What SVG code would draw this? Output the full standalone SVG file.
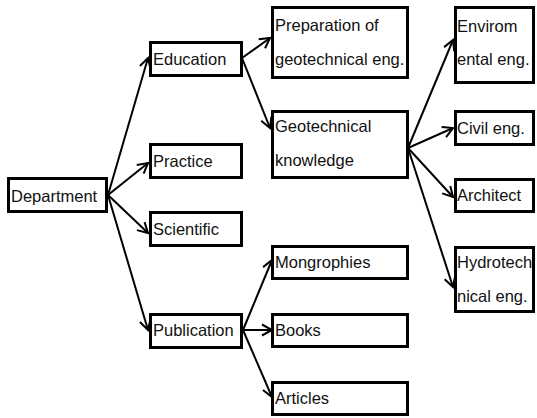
<svg xmlns="http://www.w3.org/2000/svg" width="537" height="418" viewBox="0 0 537 418">
<style>
.box{fill:#fff;stroke:#000;stroke-width:3}
.t{font-family:"Liberation Sans",Arial,sans-serif;font-size:16.5px;fill:#111}
.c{stroke:#000;stroke-width:2;fill:none;marker-end:url(#ah)}
</style>
<defs>
<marker id="ah" markerUnits="userSpaceOnUse" markerWidth="14" markerHeight="14" viewBox="0 0 14 14" refX="12" refY="7" orient="auto">
<path d="M2,1.5 L12,7 L2,12.5" fill="none" stroke="#000" stroke-width="2"/>
</marker>
</defs>
<rect width="537" height="418" fill="#fff"/>
<g id="connectors">
<line class="c" x1="108" y1="195" x2="148" y2="58"/>
<line class="c" x1="108" y1="195" x2="148" y2="163"/>
<line class="c" x1="108" y1="195" x2="148" y2="233"/>
<line class="c" x1="108" y1="195" x2="148" y2="330"/>
<line class="c" x1="242" y1="58" x2="270" y2="38"/>
<line class="c" x1="242" y1="58" x2="270" y2="128"/>
<line class="c" x1="408" y1="148" x2="453" y2="40"/>
<line class="c" x1="408" y1="148" x2="453" y2="128"/>
<line class="c" x1="408" y1="148" x2="453" y2="197"/>
<line class="c" x1="408" y1="148" x2="453" y2="287"/>
<line class="c" x1="243" y1="330" x2="272" y2="260"/>
<line class="c" x1="243" y1="330" x2="272" y2="330"/>
<line class="c" x1="243" y1="330" x2="272" y2="397"/>
</g>
<g id="department"><rect class="box" x="8.5" y="178.5" width="98" height="33"/><text class="t" x="11" y="202">Department</text></g>
<g id="education"><rect class="box" x="150.5" y="42.5" width="91" height="33"/><text class="t" x="153" y="65">Education</text></g>
<g id="practice"><rect class="box" x="150.5" y="144.5" width="91" height="33"/><text class="t" x="153" y="167">Practice</text></g>
<g id="scientific"><rect class="box" x="150.5" y="212.5" width="91" height="33"/><text class="t" x="153" y="235">Scientific</text></g>
<g id="publication"><rect class="box" x="150.5" y="314.5" width="91" height="33"/><text class="t" x="153" y="336">Publication</text></g>
<g id="preparation"><rect class="box" x="272.5" y="7.5" width="135" height="70"/><text class="t" x="275" y="31">Preparation of</text><text class="t" x="275" y="65">geotechnical eng.</text></g>
<g id="geotechnical"><rect class="box" x="272.5" y="111.5" width="135" height="66"/><text class="t" x="275" y="132">Geotechnical</text><text class="t" x="275" y="166">knowledge</text></g>
<g id="mongrophies"><rect class="box" x="272.5" y="246.5" width="135" height="32"/><text class="t" x="275" y="268">Mongrophies</text></g>
<g id="books"><rect class="box" x="272.5" y="314.5" width="135" height="32"/><text class="t" x="275" y="336">Books</text></g>
<g id="articles"><rect class="box" x="272.5" y="382.5" width="135" height="32"/><text class="t" x="275" y="404">Articles</text></g>
<g id="envirom"><rect class="box" x="455.5" y="7.5" width="78" height="75"/><text class="t" x="457" y="32">Envirom</text><text class="t" x="457" y="65">ental eng.</text></g>
<g id="civil"><rect class="box" x="455.5" y="111.5" width="78" height="33"/><text class="t" x="457" y="134">Civil eng.</text></g>
<g id="architect"><rect class="box" x="455.5" y="179.5" width="78" height="32"/><text class="t" x="457" y="201">Architect</text></g>
<g id="hydrotech"><rect class="box" x="455.5" y="247.5" width="78" height="64"/><text class="t" x="457" y="268">Hydrotech</text><text class="t" x="457" y="302">nical eng.</text></g>
</svg>
